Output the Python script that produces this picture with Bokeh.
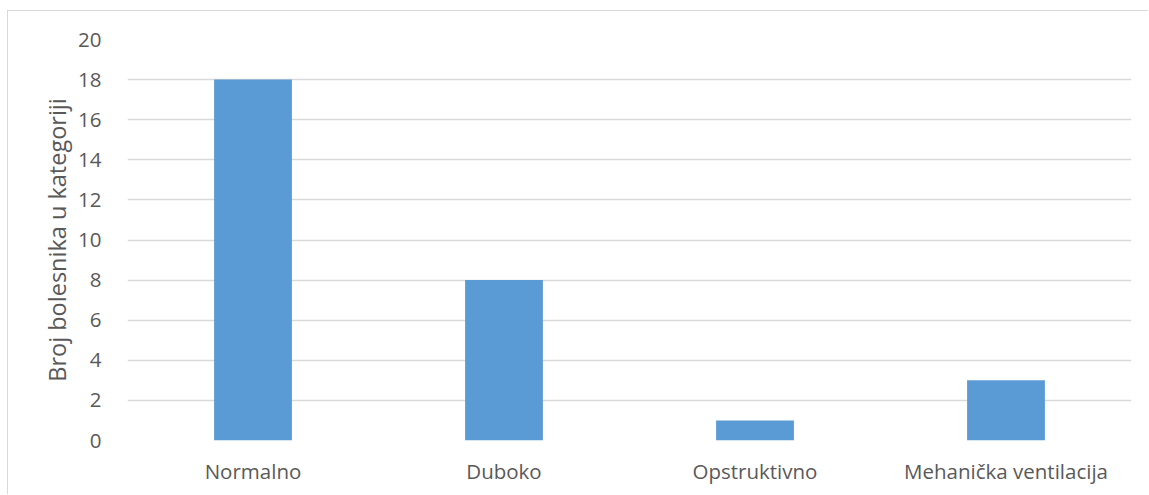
from bokeh.plotting import figure
from bokeh.embed import file_html
from bokeh.resources import INLINE
from bokeh.models import ColumnDataSource, FixedTicker

categories = ["Normalno", "Duboko", "Opstruktivno", "Mehanička ventilacija"]
counts = [18, 8, 1, 3]
y_ticks = [0, 2, 4, 6, 8, 10, 12, 14, 16, 18, 20]
y_title = "Broj bolesnika u kategoriji"

TEXT = "#595959"
GRID = "#d9d9d9"
BAR = "#5B9BD5"
FONT = "Open Sans"

src = ColumnDataSource(data=dict(cat=categories, val=counts))

p = figure(x_range=categories, y_range=(0, 20), width=1141, height=484,
           output_backend="svg", toolbar_location=None, tools="",
           min_border_left=119, min_border_right=18, min_border_top=28,
           min_border_bottom=55)
p.styles = {"margin": "10px 0 0 7px",
            "border-top": "1px solid #d9d9d9", "border-left": "1px solid #d9d9d9"}

p.vbar(x="cat", top="val", width=0.31, source=src, color=BAR, line_color=None)

p.outline_line_color = None
p.background_fill_color = "white"
p.border_fill_color = "white"

p.xgrid.grid_line_color = None
p.ygrid.grid_line_color = GRID
p.ygrid.grid_line_width = 1.3
p.ygrid.ticker = FixedTicker(ticks=y_ticks)

p.yaxis.ticker = FixedTicker(ticks=y_ticks)
p.yaxis.axis_line_color = None
p.yaxis.major_tick_line_color = None
p.yaxis.minor_tick_line_color = None
p.yaxis.major_label_standoff = 20
p.yaxis.axis_label = y_title
p.yaxis.axis_label_standoff = 2
p.yaxis.axis_label_text_font_style = "normal"

p.xaxis.axis_line_color = None
p.xaxis.major_tick_line_color = None
p.xaxis.minor_tick_line_color = None
p.xaxis.major_label_standoff = 10

for ax in (p.xaxis, p.yaxis):
    ax.major_label_text_font = FONT
    ax.major_label_text_font_size = "20.5px"
    ax.major_label_text_color = TEXT
    ax.axis_label_text_font = FONT
    ax.axis_label_text_font_size = "23.5px"
    ax.axis_label_text_color = TEXT

open("out.html", "w").write(file_html(p, INLINE))
